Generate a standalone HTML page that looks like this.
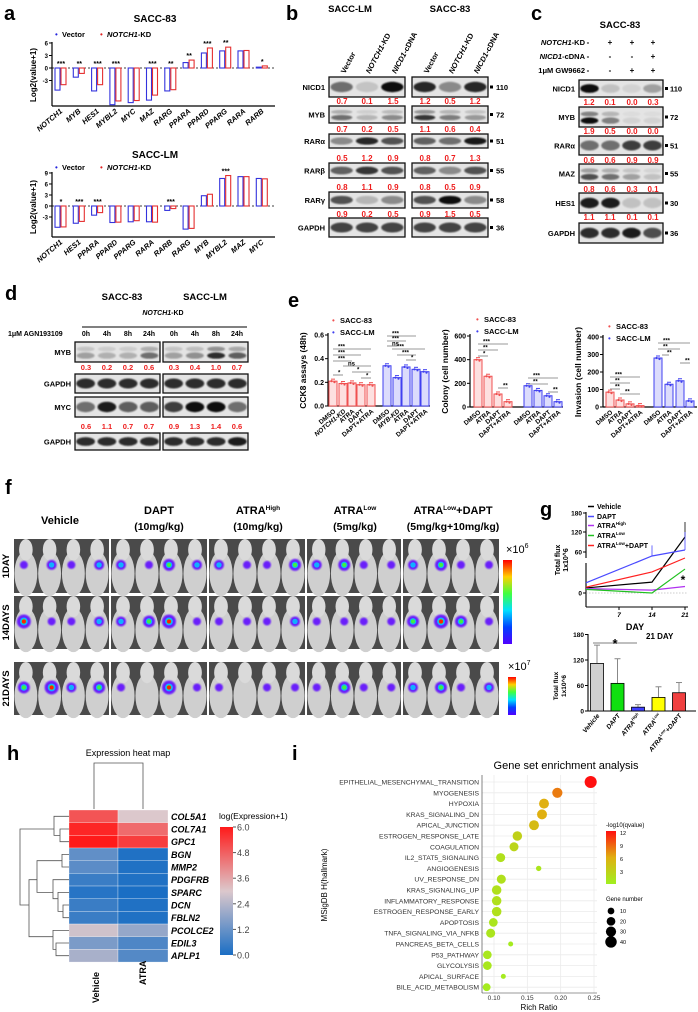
<!DOCTYPE html>
<html><head><meta charset="utf-8">
<style>
html,body{margin:0;padding:0;background:#fff;}
svg{display:block;font-family:"Liberation Sans",Arial,sans-serif;}
text{font-family:"Liberation Sans",Arial,sans-serif;}
</style></head>
<body>
<svg id="fig" width="698" height="1012" viewBox="0 0 698 1012" xmlns="http://www.w3.org/2000/svg">
<defs>
<linearGradient id="jet" x1="0" y1="1" x2="0" y2="0">
<stop offset="0" stop-color="#5000ff"/><stop offset="0.2" stop-color="#0040ff"/><stop offset="0.4" stop-color="#00e0ff"/><stop offset="0.6" stop-color="#40ff40"/><stop offset="0.8" stop-color="#ffd000"/><stop offset="1" stop-color="#ff0000"/>
</linearGradient>
<linearGradient id="hmgrad" x1="0" y1="1" x2="0" y2="0">
<stop offset="0" stop-color="#1a6ec4"/><stop offset="0.5" stop-color="#dcc8cc"/><stop offset="1" stop-color="#ff1a1a"/>
</linearGradient>
<linearGradient id="qgrad" x1="0" y1="1" x2="0" y2="0">
<stop offset="0" stop-color="#a0f020"/><stop offset="0.5" stop-color="#e0b010"/><stop offset="1" stop-color="#ff1010"/>
</linearGradient>
<filter id="blur1"><feGaussianBlur stdDeviation="1.2"/></filter>
<filter id="blur2"><feGaussianBlur stdDeviation="0.8"/></filter>
</defs>
</svg>
<script>
// ---------- Panel a data ----------
const aCats83 = ["NOTCH1","MYB","HES1","MYBL2","MYC","MAZ","RARG","PPARA","PPARD","PPARG","RARA","RARB"];
const aVec83  = [-5.3,-2.2,-5.5,-8.8,-8.3,-7.7,-5.5,1.3,3.6,4.1,4.1,0.2];
const aKd83   = [-4.0,-1.3,-4.0,-7.9,-7.8,-6.5,-5.2,1.9,4.8,5.0,4.2,0.5];
const aSig83  = ["***","**","***","***","","***","**","**","***","**","","*"];
const aCatsLM = ["NOTCH1","HES1","PPARA","PPARD","PPARG","RARA","RARB","RARG","MYB","MYBL2","MAZ","MYC"];
const aVecLM  = [-5.8,-4.7,-2.5,-4.5,-4.3,-4.3,-1.2,-6.3,2.8,7.5,8.0,7.5];
const aKdLM   = [-5.7,-4.2,-1.8,-4.4,-4.0,-4.4,-0.7,-6.1,3.2,8.3,8.0,7.4];
const aSigLM  = ["*","***","***","","","","***","","","***","",""];
const aTicks83 = [6,3,0,-3];
const aTicksLM = [9,6,3,0,-3];
// ---------- Panel b/c/d data ----------
const bRows = ["NICD1","MYB","RARα","RARβ","RARγ","GAPDH"];
const bMW = ["110","72","51","55","58","36"];
const bRatioLM = [[0.7,0.1,1.5],[0.7,0.2,0.5],[0.5,1.2,0.9],[0.8,1.1,0.9],[0.9,0.2,0.5]];
const bRatio83 = [[1.2,0.5,1.2],[1.1,0.6,0.4],[0.8,0.7,1.3],[0.8,0.5,0.9],[0.9,1.5,0.5]];
const cRows = ["NICD1","MYB","RARα","MAZ","HES1","GAPDH"];
const cMW = ["110","72","51","55","30","36"];
const cRatio = [[1.2,0.1,0.0,0.3],[1.9,0.5,0.0,0.0],[0.6,0.6,0.9,0.9],[0.8,0.6,0.3,0.1],[1.1,1.1,0.1,0.1]];
const dRatioMYB = [0.3,0.2,0.2,0.6,0.3,0.4,1.0,0.7];
const dRatioMYC = [0.6,1.1,0.7,0.7,0.9,1.3,1.4,0.6];
// ---------- Panel e data ----------
const eCckRed = [0.21,0.19,0.195,0.18,0.18];
const eCckBlue = [0.34,0.24,0.33,0.31,0.29];
const eCckLabels = ["DMSO","NOTCH1-KD","ATRA","DAPT","DAPT+ATRA","DMSO","MYB-KD","ATRA","DAPT","DAPT+ATRA"];
const eColRed = [400,260,110,45];
const eColBlue = [180,140,95,45];
const eInvRed = [85,40,18,8];
const eInvBlue = [280,130,150,35];
const eTreatLabels = ["DMSO","ATRA","DAPT","DAPT+ATRA","DMSO","ATRA","DAPT","DAPT+ATRA"];
// ---------- Panel g data ----------
const gDays = [0,14,21];
const gSeriesNames = ["Vehicle","DAPT","ATRA High","ATRA Low","ATRA Low+DAPT"];
const gVehicle = [7,15,105];
const gDAPT = [14,48,66];
const gHigh = [6,4,9];
const gLow = [5,0,33];
const gCombo = [8,29,42];
const gBarVals = [112,65,9,32,43];
const gBarErr = [155,123,15,57,67];
// ---------- Panel h data ----------
const hGenes = ["COL5A1","COL7A1","GPC1","BGN","MMP2","PDGFRB","SPARC","DCN","FBLN2","PCOLCE2","EDIL3","APLP1"];
const hVehicle = [5.0,5.8,6.0,1.1,1.0,0.5,0.2,0.5,0.5,2.8,1.5,2.2];
const hATRA = [3.0,4.6,5.4,0.1,0.1,0.1,0.0,0.1,0.1,1.9,0.8,0.9];
// ---------- Panel i data ----------
const iTerms = ["EPITHELIAL_MESENCHYMAL_TRANSITION","MYOGENESIS","HYPOXIA","KRAS_SIGNALING_DN","APICAL_JUNCTION","ESTROGEN_RESPONSE_LATE","COAGULATION","IL2_STAT5_SIGNALING","ANGIOGENESIS","UV_RESPONSE_DN","KRAS_SIGNALING_UP","INFLAMMATORY_RESPONSE","ESTROGEN_RESPONSE_EARLY","APOPTOSIS","TNFA_SIGNALING_VIA_NFKB","PANCREAS_BETA_CELLS","P53_PATHWAY","GLYCOLYSIS","APICAL_SURFACE","BILE_ACID_METABOLISM"];
const iRatio = [0.245,0.195,0.175,0.172,0.160,0.135,0.130,0.110,0.167,0.111,0.104,0.104,0.104,0.099,0.095,0.125,0.090,0.090,0.114,0.089];
const iQ = [12,8,6,6,5,3,2.5,1.5,1,1.5,1.5,1.5,1.5,1,1,0.5,0.8,0.8,0.5,0.5];
const iGenes = [45,30,28,28,28,25,22,22,5,22,25,25,25,20,22,4,20,20,4,15];

const NS="http://www.w3.org/2000/svg";
const S=document.getElementById('fig');
function mk(tag,a,p){const e=document.createElementNS(NS,tag);for(const k in a)e.setAttribute(k,a[k]);(p||S).appendChild(e);return e;}
function tx(x,y,s,a,p){const e=mk('text',Object.assign({x:x,y:y},a||{}),p);e.textContent=s;return e;}
function grp(name){const g=mk('g',{});return g;}
function panelLabel(x,y,s){const t=tx(x,y,s,{'font-size':20,'font-weight':'bold'});}

// ================= Panel a =================
panelLabel(4,20,'a');
function barPanel(name,title,titleY,cats,vec,kd,sig,y0,scale,ticks,bottom,legY,ylabY){
  const g=grp(name);
  const t=tx(155,titleY,title,{'font-size':10,'font-weight':'bold','text-anchor':'middle'},g);
  
  const lg=grp(name+'-legend');g.appendChild(lg);
  tx(55,legY,'•',{'font-size':8,fill:'#2222dd'},lg);
  tx(62,legY,'Vector',{'font-size':7.5,'font-weight':'bold'},lg);
  tx(100,legY,'•',{'font-size':8,fill:'#e02020'},lg);
  const k=tx(107,legY,'',{'font-size':7.5,'font-weight':'bold'},lg);
  k.innerHTML='<tspan font-style="italic">NOTCH1</tspan>-KD';
  const yOf=v=>y0-v*scale;
  mk('line',{x1:52,y1:yOf(ticks[0])-1,x2:52,y2:bottom,stroke:'#000','stroke-width':1.2},g);
  mk('line',{x1:52,y1:bottom,x2:275,y2:bottom,stroke:'#000','stroke-width':1.2},g);
  mk('line',{x1:52,y1:y0,x2:275,y2:y0,stroke:'#000','stroke-width':0.8,'stroke-dasharray':'2,2'},g);
  ticks.forEach(v=>{mk('line',{x1:49,y1:yOf(v),x2:52,y2:yOf(v),stroke:'#000'},g);tx(48,yOf(v)+2.5,String(v),{'font-size':6,'font-weight':'bold','text-anchor':'end'},g);});
  const yl=tx(36,ylabY,'Log2(value+1)',{'font-size':8,'font-weight':'bold','text-anchor':'middle',transform:'rotate(-90 36 '+ylabY+')'},g);
  
  cats.forEach((c,i)=>{
    const cx=61+i*18.3;
    [[vec[i],'#3333dd',cx-6],[kd[i],'#e53030',cx]].forEach(([v,col,x])=>{
      const r=mk('rect',{x:x,y:Math.min(y0,yOf(v)),width:5,height:Math.abs(v*scale),fill:'#fff',stroke:col,'stroke-width':1.1},g);
      
    });
    const top=Math.min(y0,yOf(Math.max(vec[i],kd[i])));
    if(sig[i]) tx(cx,top-2,sig[i],{'font-size':7,'font-weight':'bold','text-anchor':'middle'},g);
    const lb=tx(cx+2,bottom+6,c,{'font-size':7.5,'font-weight':'bold','font-style':'italic','text-anchor':'end',transform:'rotate(-40 '+(cx+2)+' '+(bottom+6)+')'},g);
    
  });
}
barPanel('sacc83-qpcr-chart','SACC-83',22,aCats83,aVec83,aKd83,aSig83,68,4.17,aTicks83,106,37,75);
barPanel('sacclm-qpcr-chart','SACC-LM',158,aCatsLM,aVecLM,aKdLM,aSigLM,206,3.67,aTicksLM,237,170,207);

// ================= Blot helper =================
function blot(g,x,y,w,h,vals,maxv,double){
  mk('rect',{x:x,y:y,width:w,height:h,fill:'#e4e4e4',stroke:'#111','stroke-width':1.3},g);
  const n=vals.length,lw=w/n;
  vals.forEach((v,i)=>{
    const op=Math.min(1,0.08+v/maxv);
    const cx=x+lw*(i+0.5);
    if(double){
      mk('ellipse',{cx:cx,cy:y+h*0.35,rx:lw*0.42,ry:h*0.12,fill:'#222',opacity:op*0.5,filter:'url(#blur2)'},g);
      mk('ellipse',{cx:cx,cy:y+h*0.68,rx:lw*0.42,ry:h*0.16,fill:'#111',opacity:op,filter:'url(#blur2)'},g);
    } else {
      mk('ellipse',{cx:cx,cy:y+h*0.5,rx:lw*0.44,ry:h*0.26,fill:'#111',opacity:op,filter:'url(#blur2)'},g);
    }
  });
}
function ratioRow(g,xs,y,vals,fs){vals.forEach((v,i)=>tx(xs[i],y,v.toFixed(1),{'font-size':fs||8,'font-weight':'bold',fill:'#ee1c1c','text-anchor':'middle'},g));}

// ================= Panel b =================
panelLabel(286,20,'b');
(function(){
  const g=grp('western-blot-b');
  tx(350,12,'SACC-LM',{'font-size':9.5,'font-weight':'bold','text-anchor':'middle'},g);
  tx(450,12,'SACC-83',{'font-size':9.5,'font-weight':'bold','text-anchor':'middle'},g);
  const lanes=[342,367,393,425,450,475];
  const ln=['Vector','NOTCH1-KD','NICD1-cDNA','Vector','NOTCH1-KD','NICD1-cDNA'];
  lanes.forEach((x,i)=>{const t=tx(x+3,74,'',{'font-size':7.5,'font-weight':'bold',transform:'rotate(-62 '+(x+3)+' 74)'},g);
    t.innerHTML=ln[i]==='Vector'?'Vector':(ln[i]==='NOTCH1-KD'?'<tspan font-style="italic">NOTCH1</tspan>-KD':'<tspan font-style="italic">NICD1</tspan>-cDNA');});
  const ys=[[77,97],[106,123],[134,148],[163,178],[192,208],[218,237]];
  const ry=[104,132,161,190,217];
  ys.forEach(([y0,y1],r)=>{
    const vLM=r<5?bRatioLM[r]:[1,1,1],v83=r<5?bRatio83[r]:[1,1,1];
    blot(g,329,y0,76,y1-y0,vLM,1.5,r===1);
    blot(g,412,y0,76,y1-y0,v83,1.5,r===1);
    tx(325,(y0+y1)/2+3,bRows[r],{'font-size':7.5,'font-weight':'bold','text-anchor':'end'},g);
    mk('rect',{x:490,y:(y0+y1)/2-1.5,width:3,height:3,fill:'#000'},g);
    tx(496,(y0+y1)/2+3,bMW[r],{'font-size':7.5,'font-weight':'bold'},g);
    if(r<5){ratioRow(g,[342,367,393],ry[r],vLM);ratioRow(g,[425,450,475],ry[r],v83);}
  });
})();

// ================= Panel c =================
panelLabel(531,20,'c');
(function(){
  const g=grp('western-blot-c');
  tx(620,28,'SACC-83',{'font-size':9.5,'font-weight':'bold','text-anchor':'middle'},g);
  const rl=[['NOTCH1','-KD'],['NICD1','-cDNA'],['','1μM GW9662']];
  const sg=[['-','+','+','+'],['-','-','-','+'],['-','-','+','+']];
  const cols=[589,610,632,653];
  [45,59,73].forEach((y,i)=>{
    const t=tx(585,y,'',{'font-size':7.5,'font-weight':'bold','text-anchor':'end'},g);
    t.innerHTML=(rl[i][0]?'<tspan font-style="italic">'+rl[i][0]+'</tspan>':'')+rl[i][1];
    sg[i].forEach((s,j)=>{if(j>0)tx(cols[j],y,s,{'font-size':8,'font-weight':'bold','text-anchor':'middle'},g);else tx(588,y,'-',{'font-size':8,'font-weight':'bold','text-anchor':'middle'},g);});
  });
  const ys=[[80,97],[107,127],[136,155],[164,183],[193,213],[223,243]];
  const ry=[105,134,163,192,220];
  ys.forEach(([y0,y1],r)=>{
    const v=r<5?cRatio[r]:[1,1,1.1,0.8];
    blot(g,579,y0,84,y1-y0,v,1.3,r===1||r===3);
    tx(575,(y0+y1)/2+3,cRows[r],{'font-size':7.5,'font-weight':'bold','text-anchor':'end'},g);
    mk('rect',{x:665,y:(y0+y1)/2-1.5,width:3,height:3,fill:'#000'},g);
    tx(670,(y0+y1)/2+3,cMW[r],{'font-size':7.5,'font-weight':'bold'},g);
    if(r<5)ratioRow(g,cols,ry[r],v);
  });
})();

// ================= Panel d =================
panelLabel(5,300,'d');
(function(){
  const g=grp('western-blot-d');
  tx(122,300,'SACC-83',{'font-size':9.5,'font-weight':'bold','text-anchor':'middle'},g);
  tx(205,300,'SACC-LM',{'font-size':9.5,'font-weight':'bold','text-anchor':'middle'},g);
  const k=tx(163,315,'',{'font-size':7,'font-weight':'bold','text-anchor':'middle'},g);k.innerHTML='<tspan font-style="italic">NOTCH1</tspan>-KD';
  mk('line',{x1:82,y1:327,x2:247,y2:327,stroke:'#000','stroke-width':1},g);
  tx(8,336,'1μM AGN193109',{'font-size':7,'font-weight':'bold'},g);
  const cols=[86,107,128,149,174,195,216,237];
  const times=['0h','4h','8h','24h','0h','4h','8h','24h'];
  cols.forEach((x,i)=>tx(x,336,times[i],{'font-size':7,'font-weight':'bold','text-anchor':'middle'},g));
  const rows=[['MYB',342,362,dRatioMYB,370],['GAPDH',374,393,[1,1,1,1,1,1,1,1],0],['MYC',397,417,dRatioMYC,429],['GAPDH',433,450,[1,1,1,1,1,1,1,1.1],0]];
  rows.forEach(([n,y0,y1,v,ry])=>{
    blot(g,75,y0,85,y1-y0,v.slice(0,4),1.3,n==='MYB');
    blot(g,163,y0,85,y1-y0,v.slice(4),1.3,n==='MYB');
    tx(71,(y0+y1)/2+3,n,{'font-size':7.5,'font-weight':'bold','text-anchor':'end'},g);
    if(ry)ratioRow(g,cols,ry,v,7.5);
  });
})();

// ================= Panel e =================
panelLabel(288,307,'e');
function eChart(name,axX,axEnd,yTop,y0,max,ticks,fmt,red,blue,redX,blueX,labels,ylab,leg,brackets){
  const g=grp(name);
  const yOf=v=>y0-(v/max)*(y0-yTop);
  mk('line',{x1:axX,y1:yTop-2,x2:axX,y2:y0,stroke:'#000','stroke-width':1.2},g);
  mk('line',{x1:axX,y1:y0,x2:axEnd,y2:y0,stroke:'#000','stroke-width':1.2},g);
  ticks.forEach(v=>{mk('line',{x1:axX-3,y1:yOf(v),x2:axX,y2:yOf(v),stroke:'#000'},g);tx(axX-4,yOf(v)+2.5,fmt(v),{'font-size':7,'font-weight':'bold','text-anchor':'end'},g);});
  const yl=tx(axX-22,(yTop+y0)/2,ylab,{'font-size':8.5,'font-weight':'bold','text-anchor':'middle',transform:'rotate(-90 '+(axX-22)+' '+((yTop+y0)/2)+')'},g);
  
  [[red,redX,'#f05050','#fde0e0'],[blue,blueX,'#4040f0','#dcdcfc']].forEach(([vals,xs,col,fill])=>{
    vals.forEach((v,i)=>{
      const r=mk('rect',{x:xs[i]-4,y:yOf(v),width:8,height:y0-yOf(v),fill:fill,stroke:col,'stroke-width':1},g);
      
      mk('line',{x1:xs[i]-2,y1:yOf(v)-2,x2:xs[i]+2,y2:yOf(v)-2,stroke:col},g);
      mk('circle',{cx:xs[i]-1.5,cy:yOf(v),r:1.1,fill:col},g);
      mk('circle',{cx:xs[i]+1.5,cy:yOf(v)+1,r:1.1,fill:col},g);
    });
  });
  const allX=redX.concat(blueX);
  labels.forEach((s,i)=>{tx(allX[i]+3,y0+6,s,{'font-size':6.5,'font-weight':'bold','font-style':(s.indexOf('-KD')>0?'italic':'normal'),'text-anchor':'end',transform:'rotate(-40 '+(allX[i]+3)+' '+(y0+6)+')'},g);});
  const lg=grp(name+'-legend');g.appendChild(lg);
  tx(leg[0],leg[1],'•',{'font-size':8,fill:'#f05050'},lg);tx(leg[0]+8,leg[1],'SACC-83',{'font-size':7.5,'font-weight':'bold'},lg);
  tx(leg[0],leg[1]+12,'•',{'font-size':8,fill:'#4040f0'},lg);tx(leg[0]+8,leg[1]+12,'SACC-LM',{'font-size':7.5,'font-weight':'bold'},lg);
  brackets.forEach(([x1,x2,y,s])=>{mk('line',{x1:x1,y1:y,x2:x2,y2:y,stroke:'#777','stroke-width':0.8},g);tx(x1+5,y-0.5,s,{'font-size':6,'font-weight':'bold'},g);});
}
eChart('cck8-chart',328,430,335,406,0.6,[0,0.2,0.4,0.6],v=>v.toFixed(1),eCckRed,eCckBlue,[333,343,352,361,371],[387,397,406,416,425],eCckLabels,'CCK8 assays (48h)',[332,323],
  [[333,371,349,'***'],[333,361,355,'***'],[333,352,361,'***'],[343,371,366,'ns'],[333,343,375,'*'],[352,371,372,'*'],[361,371,378,'*'],[387,416,336,'***'],[387,406,341,'***'],[387,397,346,'ns'],[392,425,349,'***'],[397,416,355,'***'],[406,416,360,'*']]);
eChart('colony-chart',470,563,336,407,600,[0,200,400,600],v=>String(v),eColRed,eColBlue,[478,488,498,508],[528,538,548,558],eTreatLabels,'Colony (cell number)',[476,322],
  [[478,508,344,'***'],[478,498,350,'**'],[478,488,356,'*'],[498,508,388,'**'],[528,558,378,'***'],[528,548,384,'**'],[548,558,392,'**']]);
eChart('invasion-chart',603,697,337,407,400,[0,100,200,300,400],v=>String(v),eInvRed,eInvBlue,[610,620,630,640],[658,669,680,690],eTreatLabels,'Invasion (cell number)',[608,329],
  [[610,640,377,'***'],[610,630,383,'**'],[610,620,389,'**'],[620,640,394,'**'],[658,690,343,'***'],[658,680,349,'**'],[662,669,355,'**'],[680,690,363,'**']]);

// ================= Panel f =================
panelLabel(5,494,'f');
(function(){
  const g=grp('bioluminescence-images');
  const heads=[[60,'Vehicle',null],[159,'DAPT','(10mg/kg)'],[258,'ATRA<tspan font-size="6.5" dy="-4">High</tspan>','(10mg/kg)'],[355,'ATRA<tspan font-size="6.5" dy="-4">Low</tspan>','(5mg/kg)'],[453,'ATRA<tspan font-size="6.5" dy="-4">Low</tspan><tspan dy="4">+DAPT</tspan>','(5mg/kg+10mg/kg)']];
  heads.forEach(([x,a,b])=>{const t=tx(x,b?514:524,'',{'font-size':11,'font-weight':'bold','text-anchor':'middle'},g);t.innerHTML=a;if(b)tx(x,530,b,{'font-size':10.5,'font-weight':'bold','text-anchor':'middle'},g);});
  const gx=[13,110,208,306,402,500];
  const rows=[[539,593,'1DAY'],[596,649,'14DAYS'],[662,715,'21DAYS']];
  const blobs=[[1,2,1,2, 2,1,3,2, 2,1,1,3, 2,3,1,1, 2,3,1,1],
               [4,1,1,2, 2,3,4,1, 1,1,1,2, 1,1,1,1, 3,4,3,1],
               [3,4,2,3, 1,0,4,1, 1,0,1,1, 1,3,1,1, 2,3,1,2]];
  const bc=['#6020ff','#4030ff','#10b0ff','#40f040','#ff2000'];
  rows.forEach(([y0,y1,lab],r)=>{
    const rg=grp('mouse-row-'+lab.toLowerCase());g.appendChild(rg);
    tx(9,(y0+y1)/2,lab,{'font-size':9.5,'font-weight':'bold','text-anchor':'middle',transform:'rotate(-90 9 '+((y0+y1)/2)+')'},rg);
    for(let k=0;k<5;k++){
      const x0=gx[k]+1,w=gx[k+1]-gx[k]-2,h=y1-y0;
      mk('rect',{x:x0,y:y0,width:w,height:h,fill:'#4a4a4a'},rg);
      for(let m=0;m<4;m++){
        const cx=x0+w*(m+0.5)/4;
        mk('ellipse',{cx:cx,cy:y0+h*0.64,rx:w/8.3,ry:h*0.42,fill:'#cfcfcf'},rg);
        mk('ellipse',{cx:cx,cy:y0+h*0.2,rx:w/14,ry:h*0.2,fill:'#dadada'},rg);
        const b=blobs[r][k*4+m];
        if(b>0){
          const bx=cx+((m%2)?2:-2),by=y0+h*0.48;
          mk('circle',{cx:bx,cy:by,r:3+b,fill:'#6010ff',opacity:0.9,filter:'url(#blur2)'},rg);
          if(b>=2)mk('circle',{cx:bx,cy:by,r:1.5+b*0.6,fill:bc[2]},rg);
          if(b>=3)mk('circle',{cx:bx,cy:by,r:1.2+b*0.3,fill:bc[3]},rg);
          if(b>=4)mk('circle',{cx:bx,cy:by,r:2,fill:bc[4]},rg);
        }
      }
    }
  });
  const cb1=mk('rect',{x:503,y:560,width:9,height:84,fill:'url(#jet)'},g);
  
  const t1=tx(506,553,'',{'font-size':11,'font-family':'Liberation Serif'},g);t1.innerHTML='×10<tspan font-size="7" dy="-5">6</tspan>';
  const cb2=mk('rect',{x:508,y:677,width:8,height:38,fill:'url(#jet)'},g);
  
  const t2=tx(508,670,'',{'font-size':11,'font-family':'Liberation Serif'},g);t2.innerHTML='×10<tspan font-size="7" dy="-5">7</tspan>';
})();

// ================= Panel g =================
panelLabel(540,516,'g');
(function(){
  const g=grp('tumor-flux-line-chart');
  const xOf=d=>586+d*(685-586)/21;
  const yOf=v=>v<42?593-v*0.725:552-(v-60)/3;
  mk('line',{x1:586,y1:512,x2:586,y2:558,stroke:'#000','stroke-width':1.1},g);
  mk('line',{x1:586,y1:563,x2:586,y2:607,stroke:'#000','stroke-width':1.1},g);
  mk('line',{x1:586,y1:607,x2:688,y2:607,stroke:'#000','stroke-width':1.1},g);
  mk('line',{x1:586,y1:593,x2:688,y2:593,stroke:'#999','stroke-width':0.6,'stroke-dasharray':'1.5,1.5'},g);
  [[180,513],[120,532],[60,552],[0,593]].forEach(([v,y])=>{mk('line',{x1:583,y1:y,x2:586,y2:y,stroke:'#000'},g);tx(582,y+2.5,String(v),{'font-size':6.5,'font-weight':'bold','text-anchor':'end'},g);});
  [7,14,21].forEach(d=>{mk('line',{x1:xOf(d),y1:607,x2:xOf(d),y2:610,stroke:'#000'},g);tx(xOf(d),617,String(d),{'font-size':6.5,'font-weight':'bold','font-style':'italic','text-anchor':'middle'},g);});
  tx(635,630,'DAY',{'font-size':9,'font-weight':'bold','text-anchor':'middle'},g);
  tx(560,560,'Total flux',{'font-size':7,'font-weight':'bold','text-anchor':'middle',transform:'rotate(-90 560 560)'},g);
  tx(568,560,'1x10^6',{'font-size':7,'font-weight':'bold','text-anchor':'middle',transform:'rotate(-90 568 560)'},g);
  const series=[[gVehicle,'#000'],[gDAPT,'#4a4aff'],[gHigh,'#b030f0'],[gLow,'#20c020'],[gCombo,'#ff2020']];
  series.forEach(([vals,col],s)=>{
    const pts=vals.map((v,i)=>xOf(gDays[i])+','+yOf(v)).join(' ');
    const pl=mk('polyline',{points:pts,fill:'none',stroke:col,'stroke-width':1.2},g);
    
  });
  mk('line',{x1:xOf(21),y1:yOf(gVehicle[2]),x2:xOf(21),y2:yOf(150),stroke:'#000','stroke-width':0.8},g);
  mk('line',{x1:xOf(21),y1:yOf(gDAPT[2]),x2:xOf(21),y2:yOf(120),stroke:'#4a4aff','stroke-width':0.8},g);
  mk('line',{x1:xOf(14),y1:yOf(gDAPT[1]),x2:xOf(14),y2:yOf(80),stroke:'#4a4aff','stroke-width':0.8},g);
  tx(683,584,'*',{'font-size':12,'font-weight':'bold','text-anchor':'middle'},g);
  const lg=grp('flux-legend');g.appendChild(lg);
  const ln=['Vehicle','DAPT','ATRA<tspan font-size="4.5" dy="-3">High</tspan>','ATRA<tspan font-size="4.5" dy="-3">Low</tspan>','ATRA<tspan font-size="4.5" dy="-3">Low</tspan><tspan dy="3">+DAPT</tspan>'];
  [509,519,528,538,548].forEach((y,i)=>{mk('line',{x1:588,y1:y-2.5,x2:594,y2:y-2.5,stroke:series[i][1],'stroke-width':1.5},lg);const t=tx(597,y,'',{'font-size':7,'font-weight':'bold'},lg);t.innerHTML=ln[i];});
  const b=grp('tumor-flux-bar-chart');
  const yB=v=>711-v*(711-660)/120;
  mk('line',{x1:588,y1:634,x2:588,y2:711,stroke:'#000','stroke-width':1.1},b);
  mk('line',{x1:588,y1:711,x2:696,y2:711,stroke:'#000','stroke-width':1.1},b);
  [0,60,120,180].forEach(v=>{mk('line',{x1:585,y1:yB(v),x2:588,y2:yB(v),stroke:'#000'},b);tx(584,yB(v)+2.5,String(v),{'font-size':6.5,'font-weight':'bold','text-anchor':'end'},b);});
  tx(558,686,'Total flux',{'font-size':6.5,'font-weight':'bold','text-anchor':'middle',transform:'rotate(-90 558 686)'},b);
  tx(566,686,'1x10^6',{'font-size':6.5,'font-weight':'bold','text-anchor':'middle',transform:'rotate(-90 566 686)'},b);
  tx(646,639,'21 DAY',{'font-size':8,'font-weight':'bold'},b);
  mk('line',{x1:593,y1:643,x2:637,y2:643,stroke:'#555','stroke-width':0.8},b);
  tx(615,648,'*',{'font-size':13,'font-weight':'bold','text-anchor':'middle'},b);
  const bcols=['#d0d0d0','#10e010','#4040ff','#ffff00','#f04040'];
  const bnames=['Vehicle','DAPT','ATRA<tspan font-size="4" dy="-3">High</tspan>','ATRA<tspan font-size="4" dy="-3">Low</tspan>','ATRA<tspan font-size="4" dy="-3">Low</tspan><tspan dy="3">+DAPT</tspan>'];
  gBarVals.forEach((v,i)=>{
    const cx=597+i*20.5;
    mk('line',{x1:cx,y1:yB(v),x2:cx,y2:yB(gBarErr[i]),stroke:'#888','stroke-width':1},b);
    mk('line',{x1:cx-3,y1:yB(gBarErr[i]),x2:cx+3,y2:yB(gBarErr[i]),stroke:'#888','stroke-width':1},b);
    const r=mk('rect',{x:cx-6.5,y:yB(v),width:13,height:711-yB(v),fill:bcols[i],stroke:'#000','stroke-width':0.8},b);
    
    const t=tx(cx+3,716,'',{'font-size':6.5,'font-weight':'bold','font-style':'italic','text-anchor':'end',transform:'rotate(-50 '+(cx+3)+' 716)'},b);t.innerHTML=bnames[i];
  });
})();

// ================= Panel h =================
panelLabel(7,760,'h');
(function(){
  const g=grp('expression-heatmap');
  tx(128,756,'Expression heat map',{'font-size':9,'text-anchor':'middle','font-family':'Liberation Sans Narrow, Liberation Sans'},g);
  mk('path',{d:'M94 809 V763 H143 V809',fill:'none',stroke:'#555','stroke-width':0.8},g);
  const cellH=12.67;
  function col(v){const t=v/6;let a,b,u;if(t<0.5){a=[26,110,196];b=[220,200,204];u=t/0.5;}else{a=[220,200,204];b=[255,26,26];u=(t-0.5)/0.5;}return 'rgb('+a.map((c,i)=>Math.round(c+(b[i]-c)*u)).join(',')+')';}
  hGenes.forEach((gn,i)=>{
    const y=810+i*cellH;
    const r1=mk('rect',{x:69,y:y,width:49,height:cellH,fill:col(hVehicle[i]),stroke:'#fff','stroke-width':0.3},g);
    
    const r2=mk('rect',{x:118,y:y,width:50,height:cellH,fill:col(hATRA[i]),stroke:'#fff','stroke-width':0.3},g);
    
    tx(171,y+cellH/2+3.5,gn,{'font-size':9,'font-weight':'bold','font-style':'italic'},g);
  });
  const yc=i=>810+(i+0.5)*cellH;
  const d='M69 '+yc(1)+' H60 V'+yc(2)+' H69 M69 '+yc(0)+' H54 V'+((yc(1)+yc(2))/2)+' H60 '+
    'M69 '+yc(3)+' H62 V'+yc(4)+' H69 M69 '+yc(7)+' H63 V'+yc(8)+' H69 M69 '+yc(6)+' H58 V'+((yc(7)+yc(8))/2)+' H63 M69 '+yc(5)+' H53 V'+((yc(6)+yc(7))/2)+' H58 M62 '+((yc(3)+yc(4))/2)+' H37 V'+((yc(5)+yc(7))/2)+' H53 '+
    'M69 '+yc(10)+' H56 V'+yc(11)+' H69 M69 '+yc(9)+' H53 V'+((yc(10)+yc(11))/2)+' H56 M37 '+((yc(4)+yc(6))/2)+' H29 V'+((yc(9)+yc(10))/2)+' H53 '+
    'M54 '+((yc(0)+yc(2))/2)+' H20 V'+((yc(5)+yc(9))/2)+' H29';
  mk('path',{d:d,fill:'none',stroke:'#555','stroke-width':0.8},g);
  tx(219,819,'log(Expression+1)',{'font-size':8.5,'font-family':'Liberation Sans Narrow, Liberation Sans'},g);
  const cb=mk('rect',{x:220,y:827,width:13,height:128,fill:'url(#hmgrad)'},g);
  
  [0,1.2,2.4,3.6,4.8,6.0].forEach(v=>{const y=955-v/6*128;mk('line',{x1:233,y1:y,x2:236,y2:y,stroke:'#555'},g);tx(237,y+3.5,v.toFixed(1),{'font-size':9,'fill':'#444','font-family':'Liberation Sans Narrow, Liberation Sans'},g);});
  tx(99,1003,'Vehicle',{'font-size':9,'font-weight':'bold',transform:'rotate(-90 99 1003)'},g);
  tx(146,985,'ATRA',{'font-size':9,'font-weight':'bold',transform:'rotate(-90 146 985)'},g);
})();

// ================= Panel i =================
panelLabel(292,760,'i');
(function(){
  const g=grp('gene-set-enrichment-dotplot');
  tx(566,769,'Gene set enrichment analysis',{'font-size':11,'text-anchor':'middle','font-family':'Liberation Sans Narrow, Liberation Sans'},g);
  const xOf=r=>494+(r-0.10)*666.7, yOf=i=>782+i*10.8;
  mk('rect',{x:482,y:775,width:115,height:218,fill:'#fff'},g);
  [0.10,0.15,0.20,0.25].forEach(v=>{mk('line',{x1:xOf(v),y1:775,x2:xOf(v),y2:993,stroke:'#ebebeb','stroke-width':0.8},g);tx(xOf(v),1000,v.toFixed(2),{'font-size':6.5,'text-anchor':'middle',fill:'#333'},g);});
  iTerms.forEach((t,i)=>{mk('line',{x1:482,y1:yOf(i),x2:597,y2:yOf(i),stroke:'#ebebeb','stroke-width':0.8},g);tx(479,yOf(i)+2.5,t,{'font-size':6.8,'text-anchor':'end',fill:'#333','font-family':'Liberation Sans Narrow, Liberation Sans'},g);});
  mk('line',{x1:482,y1:775,x2:482,y2:993,stroke:'#333','stroke-width':0.6},g);
  mk('line',{x1:482,y1:993,x2:597,y2:993,stroke:'#333','stroke-width':0.6},g);
  function qcol(q){const t=Math.min(1,q/12);let a,b,u;if(t<0.5){a=[160,240,32];b=[224,176,16];u=t/0.5;}else{a=[224,176,16];b=[255,16,16];u=(t-0.5)/0.5;}return 'rgb('+a.map((c,k)=>Math.round(c+(b[k]-c)*u)).join(',')+')';}
  iTerms.forEach((t,i)=>{const c=mk('circle',{cx:xOf(iRatio[i]),cy:yOf(i),r:1+Math.sqrt(iGenes[i])*0.75,fill:qcol(iQ[i])},g);});
  tx(539,1010,'Rich Ratio',{'font-size':8,'text-anchor':'middle','font-family':'Liberation Sans Narrow, Liberation Sans'},g);
  tx(327,885,'MSigDB H(hallmark)',{'font-size':8,'text-anchor':'middle',transform:'rotate(-90 327 885)','font-family':'Liberation Sans Narrow, Liberation Sans'},g);
  tx(606,827,'-log10(qvalue)',{'font-size':6,'font-family':'Liberation Sans Narrow, Liberation Sans'},g);
  const cb=mk('rect',{x:606,y:831,width:10,height:53,fill:'url(#qgrad)'},g);
  
  [[12,833],[9,846],[6,859],[3,872]].forEach(([v,y])=>tx(620,y+2,String(v),{'font-size':5.5},g));
  tx(606,901,'Gene number',{'font-size':6,'font-family':'Liberation Sans Narrow, Liberation Sans'},g);
  [10,20,30,40].forEach((n,k)=>{const y=911+k*10.3;mk('circle',{cx:611,cy:y,r:1+Math.sqrt(n)*0.75,fill:'#000'},g);tx(620,y+2,String(n),{'font-size':5.5},g);});
})();
</script>
</body></html>
